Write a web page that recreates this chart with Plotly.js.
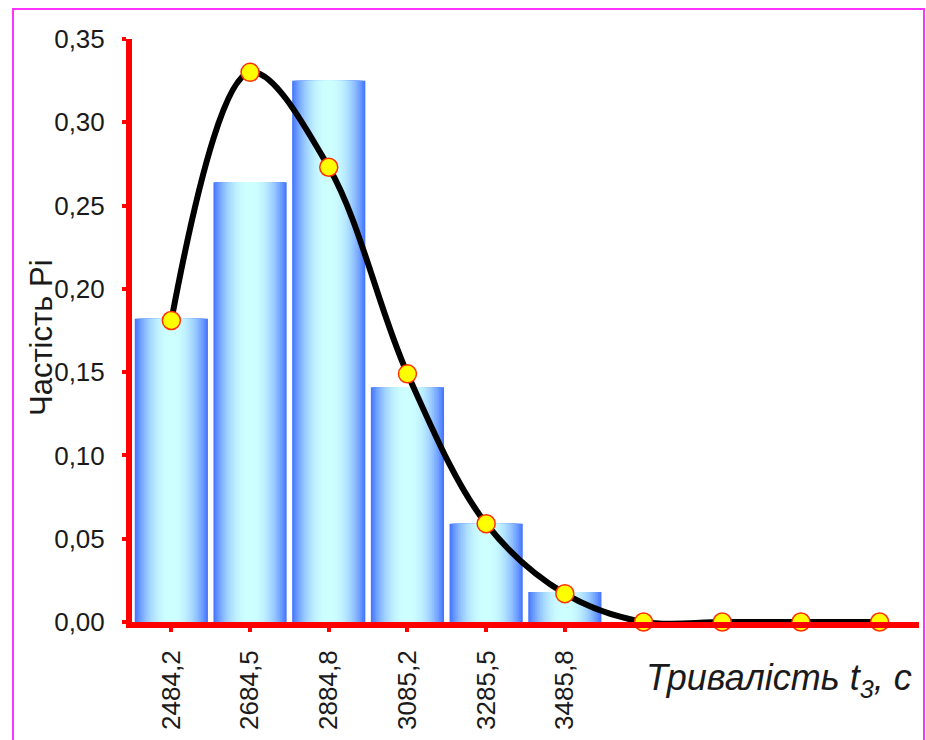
<!DOCTYPE html>
<html>
<head>
<meta charset="utf-8">
<script src="https://cdn.plot.ly/plotly-3.0.1.min.js"></script>
<style>
  html, body { margin: 0; padding: 0; background: #ffffff; }
  #chart { width: 926px; height: 740px; }
</style>
</head>
<body>
<div id="chart"></div>
<script>
// ---- data ----
const tickLabels = ["2484,2", "2684,5", "2884,8", "3085,2", "3285,5", "3485,8"];
const barValues = [0.182, 0.264, 0.325, 0.141, 0.059, 0.018];
const curveValues = [0.181, 0.330, 0.273, 0.149, 0.059, 0.017, 0.000, 0.000, 0.000, 0.000];
const yTitle = "Частість Рі";
const xTitle = "Тривалість t<sub>3</sub>, с";

// ---- positions from array indices ----
const barX = barValues.map((_, i) => i);
const curveX = curveValues.map((_, i) => i);
const tickVals = tickLabels.map((_, i) => i);

// ---- horizontal gradient for the bars, built from overlaid bar layers ----
const layers = 22;
const fullWidth = 0.93;
const edge = [72, 120, 255];
const centre = [206, 255, 255];
const traces = [];
for (let k = 0; k < layers; k++) {
  const t = k / (layers - 1);
  const f = 1 - Math.pow(1 - t, 2.2);
  const c = edge.map((e, j) => Math.round(e + (centre[j] - e) * f));
  traces.push({
    type: 'bar',
    x: barX,
    y: barValues,
    width: fullWidth * (1 - k / layers),
    marker: { color: 'rgb(' + c.join(',') + ')', line: { width: 0 } },
    hoverinfo: 'skip',
    showlegend: false
  });
}

traces.push({
  type: 'scatter',
  mode: 'lines+markers',
  x: curveX,
  y: curveValues,
  line: { color: '#000000', width: 6, shape: 'spline', smoothing: 1 },
  marker: { color: '#ffff00', size: 18, line: { color: '#ff3000', width: 1.5 } },
  hoverinfo: 'skip',
  showlegend: false,
  cliponaxis: false
});

const font = 'Liberation Sans, Arial, sans-serif';
const L = 132, R = 7, T = 39, B = 118, W = 926, H = 740;
const pw = W - L - R, ph = H - T - B;
const px = v => (v - L) / pw;
const py = v => (H - B - v) / ph;

const layout = {
  width: W,
  height: H,
  margin: { l: L, r: R, t: T, b: B, pad: 0 },
  paper_bgcolor: '#ffffff',
  plot_bgcolor: '#ffffff',
  separators: ', ',
  barmode: 'overlay',
  showlegend: false,
  font: { family: font, color: '#1a1a1a' },
  xaxis: {
    range: [-0.5, 9.5],
    showgrid: false,
    zeroline: false,
    showline: true,
    linecolor: '#ff0000',
    linewidth: 6,
    ticks: 'outside',
    ticklen: 4,
    tickwidth: 4,
    tickcolor: '#ff0000',
    tickmode: 'array',
    tickvals: tickVals,
    ticktext: tickLabels,
    tickangle: -90,
    ticklabelstandoff: 8,
    tickfont: { family: font, size: 26, color: '#1a1a1a' },
    fixedrange: true
  },
  yaxis: {
    range: [0, 0.35],
    dtick: 0.05,
    tick0: 0,
    tickformat: '.2f',
    showgrid: false,
    zeroline: false,
    showline: true,
    linecolor: '#ff0000',
    linewidth: 6,
    ticks: 'outside',
    ticklen: 4,
    tickwidth: 4,
    tickcolor: '#ff0000',
    ticklabelstandoff: 12,
    tickfont: { family: font, size: 26, color: '#1a1a1a' },
    fixedrange: true
  },
  annotations: [
    {
      text: yTitle,
      xref: 'paper', yref: 'paper',
      x: px(42), y: py(338),
      xanchor: 'center', yanchor: 'middle',
      textangle: -90,
      showarrow: false,
      font: { family: font, size: 31, color: '#1a1a1a' }
    },
    {
      text: '<i>' + xTitle + '</i>',
      xref: 'paper', yref: 'paper',
      x: px(914), y: py(680),
      xanchor: 'right', yanchor: 'middle',
      showarrow: false,
      font: { family: font, size: 36, color: '#1a1a1a' }
    }
  ],
  shapes: [
    {
      type: 'rect',
      xref: 'paper', yref: 'paper',
      x0: px(13), x1: px(924), y0: py(760), y1: py(9),
      line: { color: '#ff33ff', width: 2 },
      fillcolor: 'rgba(0,0,0,0)',
      layer: 'below'
    }
  ]
};

Plotly.newPlot('chart', traces, layout, { displayModeBar: false, staticPlot: true });
</script>
</body>
</html>
